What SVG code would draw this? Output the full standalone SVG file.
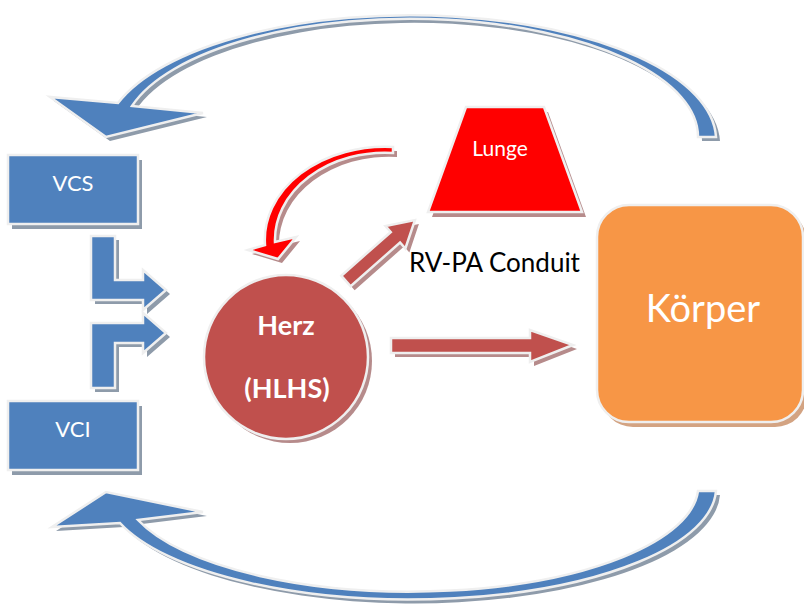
<svg xmlns="http://www.w3.org/2000/svg" xmlns:xlink="http://www.w3.org/1999/xlink" width="804" height="608" viewBox="0 0 804 608">
  <style>
    .edge { stroke: #EFEFEF; stroke-width: 2.5; stroke-linejoin: miter; }
    .blue { fill: #4F81BD; }
    .blue-sh { fill: #8E9BAA; }
    .red { fill: #C0504D; }
    .red-sh { fill: #B68B8B; }
    .bright { fill: #FF0000; }
    .orange { fill: #F79646; }
    .orange-sh { fill: #D3A382; }
    .lbl { font-family: Lato, "Open Sans", "Liberation Sans", sans-serif; fill: #FFFFFF; text-anchor: middle; }
    .note { font-family: Lato, "Open Sans", "Liberation Sans", sans-serif; fill: #000000; font-size: 26px; }
  </style>
  <defs>
    <!-- shapes, reused for the offset shadow and the filled body -->
    <path id="arcTop" d="M 716 137 A 306 125 0 0 0 118 103 L 50 97 L 106 137 L 203 113 L 132 106 A 288 118 0 0 1 698 137 Z"/>
    <path id="arcBottom" d="M 716 491 A 306 112 0 0 1 120 523 L 52 527 L 106 492 L 203 512 L 138 520 A 288 106 0 0 0 698 491 Z"/>
    <rect id="boxVCS" x="8" y="155" width="130" height="69"/>
    <rect id="boxVCI" x="8" y="401" width="130" height="69"/>
    <path id="bendUpper" d="M 91 236 L 115 236 L 115 280 L 143 280 L 143 270 L 166 290 L 143 310 L 143 300 L 91 300 Z"/>
    <path id="bendLower" d="M 91 388 L 91 323 L 143 323 L 143 313 L 166 333 L 143 353 L 143 343 L 115 343 L 115 388 Z"/>
    <circle id="heart" cx="286" cy="357" r="82"/>
    <path id="lung" d="M 466 107 L 544 107 L 582 212 L 428 212 Z"/>
    <rect id="body" x="597" y="205" width="206" height="217" rx="32" ry="32"/>
    <path id="toBody" d="M 391 338 L 530 338 L 530 330 L 573 345 L 530 362 L 530 353 L 391 353 Z"/>
    <path id="toLung" d="M 0 -7 L 66 -7 L 66 -15 L 92 0 L 66 15 L 66 7 L 0 7 Z"/>
    <path id="loop" d="M 393 147 A 120 93 0 0 0 265 245 L 248 250 L 278 259 L 296 237 L 275 242 A 110 87 0 0 1 393 153 Z"/>
  </defs>

  <!-- circulation connectors -->
  <g id="connectors">
    <g id="return-upper">
      <use xlink:href="#arcTop" class="blue-sh" transform="translate(4,4)"/>
      <use xlink:href="#arcTop" class="blue edge"/>
    </g>
    <g id="return-lower">
      <use xlink:href="#arcBottom" class="blue-sh" transform="translate(4,4)"/>
      <use xlink:href="#arcBottom" class="blue edge"/>
    </g>
    <g id="vcs-to-heart">
      <use xlink:href="#bendUpper" class="blue-sh" transform="translate(4,4)"/>
      <use xlink:href="#bendUpper" class="blue edge"/>
    </g>
    <g id="vci-to-heart">
      <use xlink:href="#bendLower" class="blue-sh" transform="translate(4,4)"/>
      <use xlink:href="#bendLower" class="blue edge"/>
    </g>
    <g id="heart-to-body">
      <use xlink:href="#toBody" class="red-sh" transform="translate(4,4)"/>
      <use xlink:href="#toBody" class="red edge"/>
    </g>
    <g id="heart-to-lung">
      <use xlink:href="#toLung" class="red-sh" transform="translate(350,285) rotate(-41.5)"/>
      <use xlink:href="#toLung" class="red edge" transform="translate(346,281) rotate(-41.5)"/>
    </g>
    <g id="lung-to-heart">
      <use xlink:href="#loop" class="red-sh" transform="translate(4,4)"/>
      <use xlink:href="#loop" class="bright edge"/>
    </g>
  </g>

  <g id="node-vcs">
    <use xlink:href="#boxVCS" class="blue-sh" transform="translate(4,5)"/>
    <use xlink:href="#boxVCS" class="blue edge"/>
    <text class="lbl" x="73" y="191" font-size="22">VCS</text>
  </g>

  <g id="node-vci">
    <use xlink:href="#boxVCI" class="blue-sh" transform="translate(4,5)"/>
    <use xlink:href="#boxVCI" class="blue edge"/>
    <text class="lbl" x="73" y="437" font-size="22">VCI</text>
  </g>

  <g id="node-heart">
    <use xlink:href="#heart" class="red-sh" transform="translate(4,4)"/>
    <use xlink:href="#heart" class="red edge"/>
    <text class="lbl" x="286" y="335" font-size="27" font-weight="bold">Herz</text>
    <text class="lbl" x="287" y="398" font-size="27" font-weight="bold">(HLHS)</text>
  </g>

  <g id="node-lung">
    <use xlink:href="#lung" class="red-sh" transform="translate(4,5)"/>
    <use xlink:href="#lung" class="bright edge"/>
    <text class="lbl" x="500" y="156" font-size="21">Lunge</text>
  </g>

  <g id="node-body">
    <use xlink:href="#body" class="orange-sh" transform="translate(4,5)"/>
    <use xlink:href="#body" class="orange edge"/>
    <text class="lbl" x="703" y="322" font-size="38">Körper</text>
  </g>

  <text id="conduit-label" class="note" x="409" y="272">RV-PA Conduit</text>
</svg>
